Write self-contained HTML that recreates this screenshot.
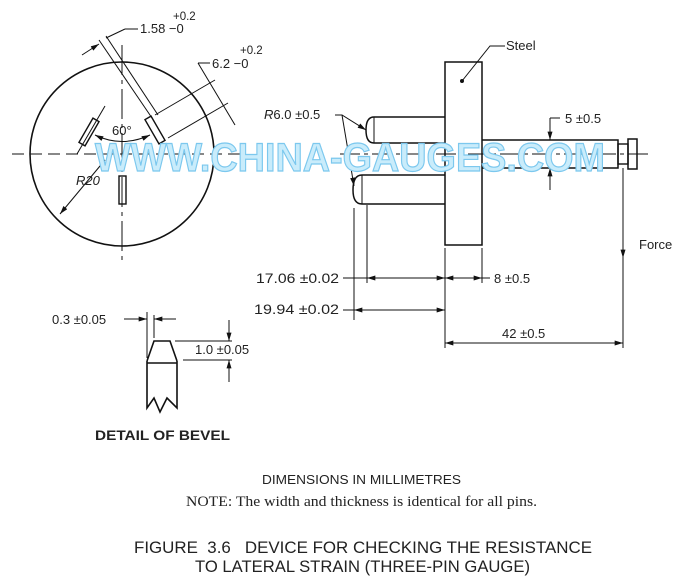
<!DOCTYPE html>
<html><head><meta charset="utf-8"><style>
html,body{margin:0;padding:0;background:#fff;width:690px;height:587px;overflow:hidden}
svg{display:block}
text{font-family:"Liberation Sans",sans-serif;fill:#222}
</style></head><body>
<svg width="690" height="587" viewBox="0 0 690 587" xmlns="http://www.w3.org/2000/svg">
<defs>
<marker id="a" viewBox="0 0 10 6" refX="10" refY="3" markerWidth="9" markerHeight="5" orient="auto-start-reverse" markerUnits="userSpaceOnUse"><path d="M0,0L10,3L0,6z" fill="#111"/></marker>
</defs>
<g stroke="#111" fill="none" stroke-width="1">
<circle cx="122" cy="154" r="92" stroke-width="1.6"/>
<line x1="12" y1="154" x2="240" y2="154" stroke-dasharray="12,6"/>
<line x1="122" y1="45" x2="122" y2="265" stroke-dasharray="30,5,4,5"/>
<rect x="-3.5" y="-14" width="7" height="28" transform="translate(89,132) rotate(30)" stroke-width="1.4"/>
<rect x="-3.5" y="-14" width="7" height="28" transform="translate(155,130) rotate(-30)" stroke-width="1.4"/>
<rect x="119" y="176" width="7" height="28" stroke-width="1.4"/>
<line x1="77" y1="154" x2="105" y2="106"/>
<path d="M95,135 Q122,148 150,135" marker-start="url(#a)" marker-end="url(#a)"/>
<line x1="152" y1="118" x2="99" y2="40"/>
<line x1="158" y1="115" x2="106" y2="36"/>
<line x1="82" y1="55" x2="99" y2="44" marker-end="url(#a)"/>
<line x1="106" y1="38" x2="125" y2="29"/>
<line x1="125" y1="29" x2="138" y2="29"/>
<line x1="155" y1="115" x2="215" y2="80"/>
<line x1="168" y1="138" x2="228" y2="103"/>
<line x1="198" y1="63" x2="235" y2="125"/>
<line x1="198" y1="63" x2="210" y2="63"/>
<line x1="105" y1="160" x2="60" y2="214" marker-end="url(#a)"/>
<rect x="445" y="62" width="37" height="183" stroke-width="1.5"/>
<circle cx="462" cy="81" r="1.5" fill="#111"/>
<polyline points="462,81 490,46 505,46"/>
<path d="M445,117 H374 Q366,117 366,130 Q366,143 374,143 H445" stroke-width="1.5"/>
<line x1="374" y1="117" x2="374" y2="143"/>
<path d="M445,175 H362 Q353,175 353,190 Q353,204 362,204 H445" stroke-width="1.5"/>
<line x1="362" y1="175" x2="362" y2="204"/>
<path d="M482,140 H618 V168 H482" stroke-width="1.5"/>
<rect x="618" y="144" width="10" height="20" stroke-width="1.4"/>
<rect x="628" y="139" width="9" height="30" stroke-width="1.5"/>
<line x1="340" y1="154" x2="650" y2="154" stroke-dasharray="20,4,4,4"/>
<polyline points="335,115 342,115 366,130" marker-end="url(#a)"/>
<line x1="342" y1="115" x2="354" y2="186" marker-end="url(#a)"/>
<line x1="550" y1="118" x2="550" y2="140" marker-end="url(#a)"/>
<line x1="550" y1="190" x2="550" y2="168" marker-end="url(#a)"/>
<line x1="550" y1="118" x2="560" y2="118"/>
<line x1="623" y1="168" x2="623" y2="258" marker-end="url(#a)"/>
<line x1="367" y1="205" x2="367" y2="283"/>
<line x1="354" y1="208" x2="354" y2="320"/>
<line x1="445" y1="248" x2="445" y2="348"/>
<line x1="482" y1="248" x2="482" y2="283"/>
<line x1="623" y1="258" x2="623" y2="348"/>
<line x1="343" y1="278" x2="367" y2="278"/>
<line x1="367" y1="278" x2="445" y2="278" marker-start="url(#a)" marker-end="url(#a)"/>
<line x1="445" y1="278" x2="482" y2="278" marker-start="url(#a)" marker-end="url(#a)"/>
<line x1="482" y1="278" x2="490" y2="278"/>
<line x1="343" y1="310" x2="354" y2="310"/>
<line x1="354" y1="310" x2="445" y2="310" marker-start="url(#a)" marker-end="url(#a)"/>
<line x1="445" y1="343" x2="623" y2="343" marker-start="url(#a)" marker-end="url(#a)"/>
<path d="M147,361 L154,341 H170 L177,361" stroke-width="1.6"/>
<line x1="147" y1="363" x2="177" y2="363" stroke-width="1.6"/>
<path d="M147,361 V408 L154,398 L160,412 L167,398 L177,408 V361" stroke-width="1.6"/>
<line x1="147" y1="312" x2="147" y2="358"/>
<line x1="154" y1="315" x2="154" y2="338"/>
<line x1="124" y1="319" x2="147" y2="319" marker-end="url(#a)"/>
<line x1="176" y1="319" x2="154" y2="319" marker-end="url(#a)"/>
<line x1="175" y1="341" x2="232" y2="341"/>
<line x1="183" y1="360" x2="232" y2="360"/>
<line x1="229" y1="320" x2="229" y2="341" marker-end="url(#a)"/>
<line x1="229" y1="382" x2="229" y2="360" marker-end="url(#a)"/>
</g>
<text x="95" y="171" font-size="40" font-weight="bold" textLength="510" lengthAdjust="spacingAndGlyphs" style="fill:#c9ecfb;stroke:#7cc8ee;stroke-width:1.2">WWW.CHINA-GAUGES.COM</text>
<g font-size="13">
<text x="140" y="33">1.58 −0</text>
<text x="173" y="20" font-size="11.5">+0.2</text>
<text x="212" y="68">6.2 −0</text>
<text x="240" y="54" font-size="11.5">+0.2</text>
<text x="112" y="135">60°</text>
<text x="76" y="185" font-style="italic">R20</text>
<text x="506" y="50">Steel</text>
<text x="264" y="119"><tspan font-style="italic">R</tspan>6.0 ±0.5</text>
<text x="565" y="123">5 ±0.5</text>
<text x="639" y="249">Force</text>
<text x="256" y="283" font-size="13.5" textLength="83" lengthAdjust="spacingAndGlyphs">17.06 ±0.02</text>
<text x="494" y="283">8 ±0.5</text>
<text x="254" y="314" font-size="13.5" textLength="85" lengthAdjust="spacingAndGlyphs">19.94 ±0.02</text>
<text x="502" y="338">42 ±0.5</text>
<text x="52" y="324">0.3 ±0.05</text>
<text x="195" y="354">1.0 ±0.05</text>
<text x="95" y="440" font-weight="bold" font-size="13.5" textLength="135" lengthAdjust="spacingAndGlyphs">DETAIL OF BEVEL</text>
<text x="262" y="484" font-size="12.5" textLength="199" lengthAdjust="spacingAndGlyphs">DIMENSIONS IN MILLIMETRES</text>
<text x="186" y="506" style="font-family:'Liberation Serif',serif" font-size="14.5" textLength="351" lengthAdjust="spacingAndGlyphs">NOTE: The width and thickness is identical for all pins.</text>
<text x="134" y="553" font-size="16.5" textLength="458" lengthAdjust="spacingAndGlyphs" xml:space="preserve">FIGURE  3.6   DEVICE FOR CHECKING THE RESISTANCE</text>
<text x="195" y="572" font-size="16.5" textLength="335" lengthAdjust="spacingAndGlyphs">TO LATERAL STRAIN (THREE-PIN GAUGE)</text>
</g>
</svg>
</body></html>
